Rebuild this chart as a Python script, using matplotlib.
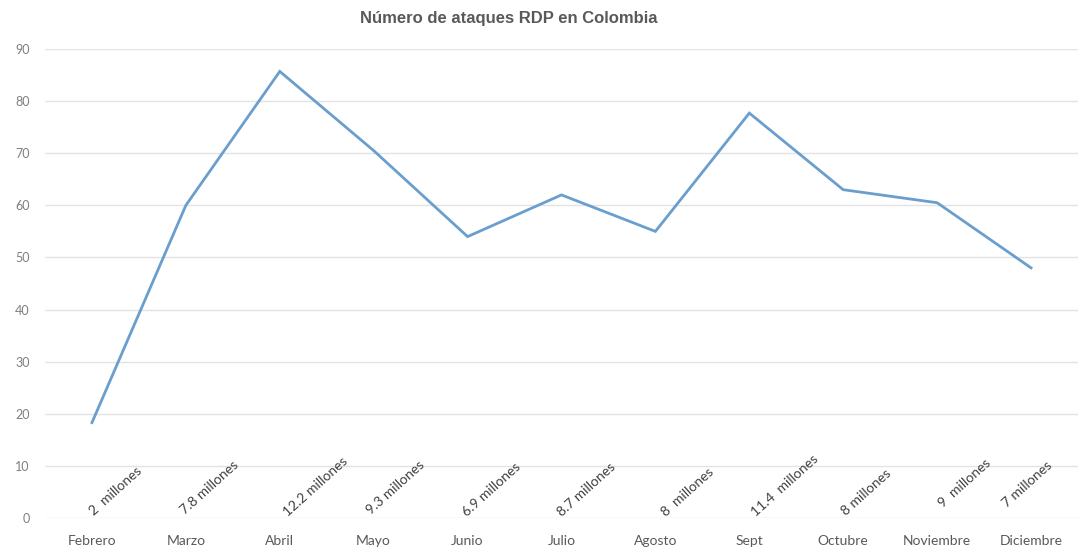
import matplotlib
matplotlib.use("Agg")
import matplotlib.pyplot as plt

# ---- data ----
months = ["Febrero", "Marzo", "Abril", "Mayo", "Junio", "Julio", "Agosto",
          "Sept", "Octubre", "Noviembre", "Diciembre"]
ataques = [18.3, 60.0, 85.7, 70.5, 54.0, 62.0, 55.0, 77.7, 63.0, 60.5, 48.0]
labels = ["2  millones", "7.8 millones", "12.2 millones", "9.3 millones",
          "6.9 millones", "8.7 millones", "8  millones", "11.4  millones",
          "8 millones", "9  millones", "7 millones"]
y_ticks = [0, 10, 20, 30, 40, 50, 60, 70, 80, 90]
title = "Número de ataques RDP en Colombia"

# label placement offsets (pixels) - styling only
lab_dx = [2, -1, 8, -3, -1, 0, 11, 7, 3, 6, -24]
lab_dy = [2, 3, 1, 3, 1, 1, 1, 1, 2, 10, 10]

W, H, DPI = 1079, 548, 100
fig = plt.figure(figsize=(W / DPI, H / DPI), dpi=DPI)
ax = fig.add_axes([45 / W, 1 - 518 / H, (1078 - 45) / W, (518 - 49) / H])

x = list(range(len(months)))
ax.plot(x, ataques, color="#6A9FCD", linewidth=2.0, solid_joinstyle="miter", zorder=3)

ax.set_xlim(-0.5, len(months) - 0.5)
ax.set_ylim(0, 90)
ax.set_yticks(y_ticks)
ax.set_yticklabels([str(v) for v in y_ticks], fontsize=9, color="#7F7F7F",
                   fontfamily="Lato")
ax.set_xticks(x)
ax.set_xticklabels(months, fontsize=10, color="#595959", fontfamily="Lato")
ax.tick_params(axis="both", length=0)
ax.tick_params(axis="y", pad=11)
ax.tick_params(axis="x", pad=12)
ax.grid(axis="y", color="#E3E3E3", linewidth=1.0)
ax.set_axisbelow(True)
for s in ax.spines.values():
    s.set_visible(False)

for i, lab in enumerate(labels):
    ax.annotate(lab, xy=(i, 0), xytext=(lab_dx[i] * 0.72, lab_dy[i] * 0.72),
                textcoords="offset points", rotation=42, rotation_mode="anchor",
                ha="left", va="baseline", fontsize=10, color="#404040",
                fontfamily="Lato", zorder=4)

fig.text(509 / W, 1 - 18 / H, title, ha="center", va="center", fontsize=12,
         fontweight="bold", color="#595959", fontfamily="Liberation Sans")

fig.savefig("out.png", dpi=DPI, facecolor="white")
